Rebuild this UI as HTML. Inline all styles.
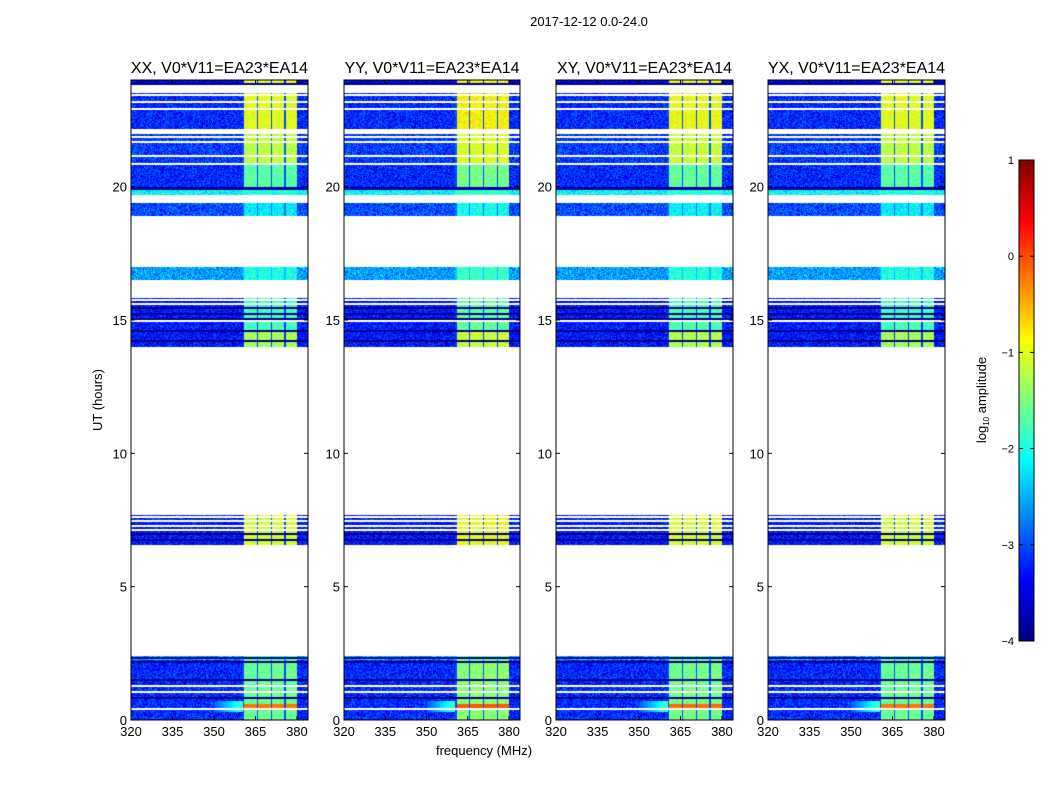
<!DOCTYPE html>
<html><head><meta charset="utf-8">
<style>
body{margin:0;background:#fff;width:1050px;height:800px;overflow:hidden;font-family:"Liberation Sans",sans-serif}
#wrap{position:relative;width:1050px;height:800px}
canvas{position:absolute}
svg{position:absolute;left:0;top:0}
</style></head><body>
<div id="wrap">
<canvas id="c0" width="177" height="640" style="left:131px;top:80px"></canvas>
<canvas id="c1" width="176" height="640" style="left:344px;top:80px"></canvas>
<canvas id="c2" width="177" height="640" style="left:556px;top:80px"></canvas>
<canvas id="c3" width="177" height="640" style="left:768px;top:80px"></canvas>
<canvas id="cb" width="15" height="481" style="left:1019px;top:160px"></canvas>
<svg id="ov" width="1050" height="800" font-family="Liberation Sans, sans-serif"></svg>
</div>
<script>
// ---- data ----
const panelTitles = ["XX, V0*V11=EA23*EA14","YY, V0*V11=EA23*EA14","XY, V0*V11=EA23*EA14","YX, V0*V11=EA23*EA14"];
const panelLefts = [131,344,556,768];
const panelBandOffset = [0, 0.15, 0.05, 0.0];
// rows: [startHour, endHour, backgroundLog, bandLog]
const rowStart = [23.81,22.16,20.85,19.99,19.87,19.65,18.90,16.50,14.63,13.99,6.56,2.25,0.00];
const rowEnd   = [24.00,23.51,21.97,20.85,19.99,19.87,19.39,16.99,15.83,14.63,7.69,2.40,2.25];
const rowBg    = [-3.5,-3.2,-3.1,-3.2,-3.9,-2.1,-3.0,-2.6,-3.3,-3.3,-3.3,-2.5,-3.2];
const rowBand  = [-1.0,-1.0,-1.2,-1.7,-3.9,-2.0,-2.2,-2.0,-1.8,-1.3,-1.1,-1.7,-1.6];
const hotStart=[0.45]; const hotEnd=[0.6]; const hotBand=[-0.2];
const whiteLines = [23.44,23.17,22.91,21.86,21.67,21.15,20.85,19.65,15.75,15.6,14.96,7.61,7.46,7.27,7.12,1.27,1.05,0.41];
const darkLines = [23.85,15.45,15.22,15.04,14.59,14.21,6.97,6.75,2.33,2.17,1.5,0.82];
const channelEdges = [360.5,365.5,370.5,375.5];
const bandEnd = 380.0;
const xTicks = [320,335,350,365,380];
const yTicks = [0,5,10,15,20];
const cbTicks = [1,0,-1,-2,-3,-4];
// ---- scales ----
const FMIN=320, FMAX=384, HMIN=0, HMAX=24, TOP=80, H=640;
function yOf(h){return TOP+H-(h-HMIN)/(HMAX-HMIN)*H;}
function xOf(f,left,w){return left+(f-FMIN)/(FMAX-FMIN)*w;}
function jet(v){
  function c(x){return Math.max(0,Math.min(1,x));}
  const r=c(1.5-Math.abs(4*v-3)), g=c(1.5-Math.abs(4*v-2)), b=c(1.5-Math.abs(4*v-1));
  return [r*255|0,g*255|0,b*255|0];
}
function hash(x,y){let n=(x*374761393+y*668265263)|0;n=(n^(n>>>13))*1274126177|0;return ((n^(n>>>16))>>>0)/4294967296;}
function inList(h,list,tol){return list.some(l=>Math.abs(h-l)<tol);}
for(let p=0;p<4;p++){
  const cv=document.getElementById('c'+p), ctx=cv.getContext('2d');
  const W=cv.width, img=ctx.createImageData(W,H);
  for(let y=0;y<H;y++){
    const h=HMAX-(y+0.5)/H*(HMAX-HMIN);
    let ri=-1; for(let i=0;i<rowStart.length;i++) if(h>=rowStart[i]&&h<rowEnd[i]){ri=i;break;}
    const white = ri<0 || inList(h,whiteLines,0.045);
    const dark = inList(h,darkLines,0.03);
    for(let x=0;x<W;x++){
      const k=(y*W+x)*4;
      if(white){img.data[k]=img.data[k+1]=img.data[k+2]=255;img.data[k+3]=255;continue;}
      const f=FMIN+(x+0.5)/W*(FMAX-FMIN);
      const bg=rowBg[ri], band=rowBand[ri]+panelBandOffset[p];
      const inBand=f>=channelEdges[0]&&f<bandEnd;
      let v;
      if(dark) v=-3.95;
      else if(inBand){
        const edge=channelEdges.some(e=>f>=e&&f<e+0.45);
        v=edge?bg+0.2:band+(hash(x,y)-0.5)*0.6;
        if(h>=hotStart[0]&&h<hotEnd[0]&&!edge) v=hotBand[0]+panelBandOffset[p];
      } else {
        v=bg+(hash(x,y)-0.5)*0.9;
        if(h>=hotStart[0]-0.15&&h<hotEnd[0]+0.1&&f>350&&f<360.5) v=Math.max(v,-3.0+(f-350)/10*1.2);
      }
      const c=jet(Math.max(0,Math.min(1,(v+4)/5)));
      img.data[k]=c[0];img.data[k+1]=c[1];img.data[k+2]=c[2];img.data[k+3]=255;
    }
  }
  ctx.putImageData(img,0,0);
}
{const cv=document.getElementById('cb'),ctx=cv.getContext('2d');
 for(let y=0;y<cv.height;y++){const c=jet(1-y/(cv.height-1));ctx.fillStyle=`rgb(${c})`;ctx.fillRect(0,y,15,1);}}
// ---- overlay ----
const NS='http://www.w3.org/2000/svg', svg=document.getElementById('ov');
function mk(tag,attrs,text){const e=document.createElementNS(NS,tag);for(const k in attrs)e.setAttribute(k,attrs[k]);if(text!==undefined)e.textContent=text;svg.appendChild(e);return e;}
let t=mk('text',{x:589,y:26,'font-size':13,'text-anchor':'middle'},'2017-12-12 0.0-24.0');


const widths=[177,176,177,177];
for(let p=0;p<4;p++){
  const L=panelLefts[p],W=widths[p];
  const r=mk('rect',{x:L,y:TOP,width:W,height:H,fill:'none',stroke:'#000','stroke-width':1});
  
  
  const tt=mk('text',{x:L+W/2,y:73,'font-size':16,'text-anchor':'middle'},panelTitles[p]);
  
  
  xTicks.forEach(f=>{const x=xOf(f,L,W);
    mk('line',{x1:x,x2:x,y1:TOP+H,y2:TOP+H-4,stroke:'#000'});
    mk('line',{x1:x,x2:x,y1:TOP,y2:TOP+4,stroke:'#000'});
    const l=mk('text',{x:x,y:736,'font-size':13,'text-anchor':'middle'},String(f));
    
    });
  yTicks.forEach(h=>{const y=yOf(h);
    mk('line',{x1:L,x2:L+4,y1:y,y2:y,stroke:'#000'});
    mk('line',{x1:L+W,x2:L+W-4,y1:y,y2:y,stroke:'#000'});
    const l=mk('text',{x:L-4,y:y+5,'font-size':13,'text-anchor':'end'},String(h));
    
    });
}
t=mk('text',{x:484,y:755,'font-size':13,'text-anchor':'middle'},'frequency (MHz)');


t=mk('text',{x:102,y:400,'font-size':13,'text-anchor':'middle',transform:'rotate(-90 102 400)'},'UT (hours)');


const cbr=mk('rect',{x:1019,y:160,width:15,height:481,fill:'none',stroke:'#000'});


cbTicks.forEach(v=>{const y=160+(1-v)/5*481;
  mk('line',{x1:1019,x2:1023,y1:y,y2:y,stroke:'#000'});
  mk('line',{x1:1034,x2:1030,y1:y,y2:y,stroke:'#000'});
  const l=mk('text',{x:1014,y:y+4,'font-size':11,'text-anchor':'end'},v<0?'\u2212'+(-v):String(v));
  
  });
t=mk('text',{x:986,y:400,'font-size':13,'text-anchor':'middle',transform:'rotate(-90 986 400)'});
t.innerHTML='log<tspan font-size="8" dy="3">10</tspan><tspan dy="-3"> amplitude</tspan>';


</script>
</body></html>
